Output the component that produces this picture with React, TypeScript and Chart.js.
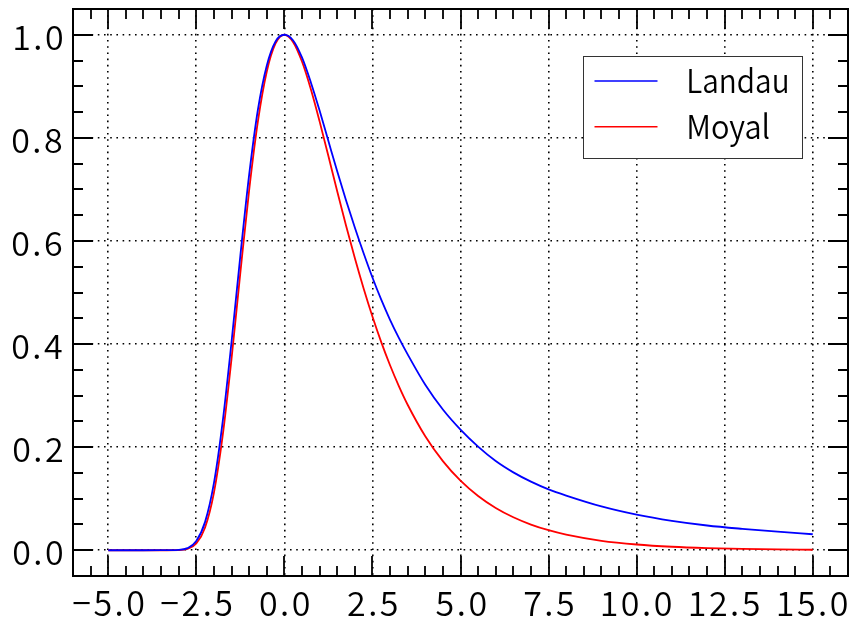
import React, { useEffect, useRef } from "react";
import { Chart, registerables } from "chart.js";

Chart.register(...registerables);

// ---- data ----
const xValues = [
  -5, -4.5, -4, -3.5, -3, -2.75, -2.5, -2.25, -2, -1.75, -1.5, -1.25, -1, -0.75, -0.5, -0.25,
  0, 0.25, 0.5, 0.75, 1, 1.25, 1.5, 1.75, 2, 2.25, 2.5, 2.75, 3, 3.25, 3.5, 4, 4.5, 5, 5.5, 6, 6.5,
  7, 7.5, 8, 9, 10, 11, 12, 13, 14, 15,
];
const landauValues = [
  0, 0, 0, 0.00002, 0.0006, 0.004, 0.018, 0.055, 0.13, 0.25, 0.404, 0.571, 0.728, 0.855, 0.94, 0.987,
  1.0, 0.989, 0.956, 0.908, 0.853, 0.794, 0.735, 0.679, 0.626, 0.576, 0.529, 0.486, 0.447, 0.412,
  0.38, 0.321, 0.273, 0.234, 0.201, 0.173, 0.151, 0.133, 0.118, 0.106, 0.085, 0.069, 0.057, 0.048,
  0.0415, 0.036, 0.031,
];
const moyalValues = [
  0, 0, 0, 0, 0.0003, 0.0026, 0.013, 0.0442, 0.1114, 0.2226, 0.3713, 0.5379, 0.6983, 0.8324, 0.9283,
  0.9831, 1.0, 0.9857, 0.9481, 0.8948, 0.832, 0.7647, 0.6966, 0.6301, 0.5668, 0.5078, 0.4534, 0.4037,
  0.3588, 0.3184, 0.2822, 0.2211, 0.1728, 0.1349, 0.1052, 0.082, 0.0639, 0.0498, 0.0388, 0.0302,
  0.0183, 0.0111, 0.0067, 0.0041, 0.0025, 0.0015, 0.0009,
];
const seriesNames = ["Landau", "Moyal"];
const seriesColors = ["#0000ff", "#ff0000"];

const xMajorTicks = [-5, -2.5, 0, 2.5, 5, 7.5, 10, 12.5, 15];
const yMajorTicks = [0, 0.2, 0.4, 0.6, 0.8, 1.0];
const xRange = [-6, 16];
const yRange = [-0.05, 1.05];
const xMinorStep = 0.5;
const yMinorStep = 0.05;

const FONT_FAMILY = '"Noto Sans CJK JP", "Noto Sans", sans-serif';
const TICK_FONT = `350 34px ${FONT_FAMILY}`;
const LEGEND_FONT = `350 33px ${FONT_FAMILY}`;

const fmt = (v: number) => v.toFixed(1).replace("-", "\u2212");

const isMajor = (v: number, majors: number[]) => majors.some((m) => Math.abs(m - v) < 1e-6);

const frameTicksPlugin = {
  id: "frameTicks",
  afterDatasetsDraw(chart: any) {
    const { ctx, chartArea } = chart;
    const { left, right, top, bottom } = chartArea;
    const xs = chart.scales.x;
    const ys = chart.scales.y;
    const majorLen = 20;
    const minorLen = 10;
    ctx.save();
    ctx.strokeStyle = "#000";
    ctx.lineWidth = 1.8;
    ctx.beginPath();
    const nx = Math.round((xRange[1] - xRange[0]) / xMinorStep);
    for (let i = 0; i <= nx; i++) {
      const v = xRange[0] + i * xMinorStep;
      const len = isMajor(v, xMajorTicks) ? majorLen : minorLen;
      const px = Math.round(xs.getPixelForValue(v));
      ctx.moveTo(px, bottom);
      ctx.lineTo(px, bottom - len);
      ctx.moveTo(px, top);
      ctx.lineTo(px, top + len);
    }
    const ny = Math.round((yRange[1] - yRange[0]) / yMinorStep);
    for (let i = 0; i <= ny; i++) {
      const v = yRange[0] + i * yMinorStep;
      const len = isMajor(v, yMajorTicks) ? majorLen : minorLen;
      const py = Math.round(ys.getPixelForValue(v));
      ctx.moveTo(left, py);
      ctx.lineTo(left + len, py);
      ctx.moveTo(right, py);
      ctx.lineTo(right - len, py);
    }
    ctx.stroke();
    ctx.lineWidth = 2;
    ctx.strokeRect(left, top, right - left, bottom - top);
    ctx.restore();
  },
  afterDraw(chart: any) {
    const { ctx, chartArea } = chart;
    const xs = chart.scales.x;
    const ys = chart.scales.y;
    ctx.save();
    ctx.fillStyle = "#000";
    ctx.font = TICK_FONT;
    ctx.textAlign = "left";
    ctx.textBaseline = "alphabetic";
    if ("letterSpacing" in ctx) (ctx as any).letterSpacing = "2.5px";
    xMajorTicks.forEach((v) => {
      const s = fmt(v);
      const m = ctx.measureText(s);
      const px = xs.getPixelForValue(v);
      const x = px - (m.actualBoundingBoxRight - m.actualBoundingBoxLeft) / 2;
      ctx.fillText(s, x, chartArea.bottom + 40);
    });
    yMajorTicks.forEach((v) => {
      const s = fmt(v);
      const m = ctx.measureText(s);
      const py = ys.getPixelForValue(v);
      const x = chartArea.left - 11 - m.actualBoundingBoxRight;
      ctx.fillText(s, x, py + 15);
    });
    ctx.restore();

    // legend
    const boxRight = chartArea.right - 46;
    const boxTop = chartArea.top + 47;
    const boxW = 219;
    const boxH = 102;
    const boxLeft = boxRight - boxW;
    ctx.save();
    ctx.fillStyle = "#ffffff";
    ctx.fillRect(boxLeft, boxTop, boxW, boxH);
    ctx.strokeStyle = "#333333";
    ctx.lineWidth = 1;
    ctx.strokeRect(boxLeft + 0.5, boxTop + 0.5, boxW, boxH);
    ctx.font = LEGEND_FONT;
    ctx.textBaseline = "alphabetic";
    ctx.textAlign = "left";
    const targetWidths = [98, 80];
    seriesNames.forEach((name, i) => {
      const y = boxTop + 25 + i * 45.7;
      ctx.strokeStyle = seriesColors[i];
      ctx.lineWidth = 1.6;
      ctx.beginPath();
      ctx.moveTo(boxLeft + 11.5, y);
      ctx.lineTo(boxLeft + 74.5, y);
      ctx.stroke();
      const m = ctx.measureText(name);
      const ink = m.actualBoundingBoxRight + m.actualBoundingBoxLeft;
      const sx = Math.min(1, targetWidths[i] / ink);
      ctx.save();
      ctx.translate(boxLeft + 106, y + 12);
      ctx.scale(sx, 1);
      ctx.fillStyle = "#000";
      ctx.fillText(name, m.actualBoundingBoxLeft, 0);
      ctx.restore();
    });
    ctx.restore();
  },
};

export default function App() {
  const canvasRef = useRef<HTMLCanvasElement | null>(null);

  useEffect(() => {
    if (!canvasRef.current) return;
    const seriesData = [landauValues, moyalValues];
    const chart = new Chart(canvasRef.current, {
      type: "line",
      data: {
        datasets: seriesNames.map((name, i) => ({
          label: name,
          data: xValues.map((x, j) => ({ x, y: seriesData[i][j] })),
          borderColor: seriesColors[i],
          backgroundColor: seriesColors[i],
          borderWidth: 1.8,
          pointRadius: 0,
          fill: false,
          cubicInterpolationMode: "monotone",
        })),
      },
      options: {
        animation: false,
        responsive: false,
        maintainAspectRatio: false,
        layout: { padding: { top: 9, right: 6, left: 0, bottom: 0 } },
        plugins: {
          legend: { display: false },
          tooltip: { enabled: false },
        },
        scales: {
          x: {
            type: "linear",
            min: xRange[0],
            max: xRange[1],
            afterBuildTicks: (scale: any) => {
              scale.ticks = xMajorTicks.map((v) => ({ value: v }));
            },
            afterFit: (scale: any) => {
              scale.height = 44;
              scale.paddingLeft = 0;
              scale.paddingRight = 0;
            },
            ticks: { display: false },
            grid: { drawTicks: false, color: "#000", lineWidth: 1.6 },
            border: { display: false, dash: [1.6, 4.6] },
          },
          y: {
            type: "linear",
            min: yRange[0],
            max: yRange[1],
            afterBuildTicks: (scale: any) => {
              scale.ticks = yMajorTicks.map((v) => ({ value: v }));
            },
            afterFit: (scale: any) => {
              scale.width = 73;
              scale.paddingTop = 0;
              scale.paddingBottom = 0;
            },
            ticks: { display: false },
            grid: { drawTicks: false, color: "#000", lineWidth: 1.6 },
            border: { display: false, dash: [1.6, 4.6] },
          },
        },
      },
      plugins: [frameTicksPlugin],
    } as any);

    return () => chart.destroy();
  }, []);

  return (
    <div style={{ position: "absolute", left: 0, top: 0, width: 854, height: 620, background: "#fff" }}>
      <canvas ref={canvasRef} width={854} height={620} style={{ width: 854, height: 620 }} />
    </div>
  );
}
